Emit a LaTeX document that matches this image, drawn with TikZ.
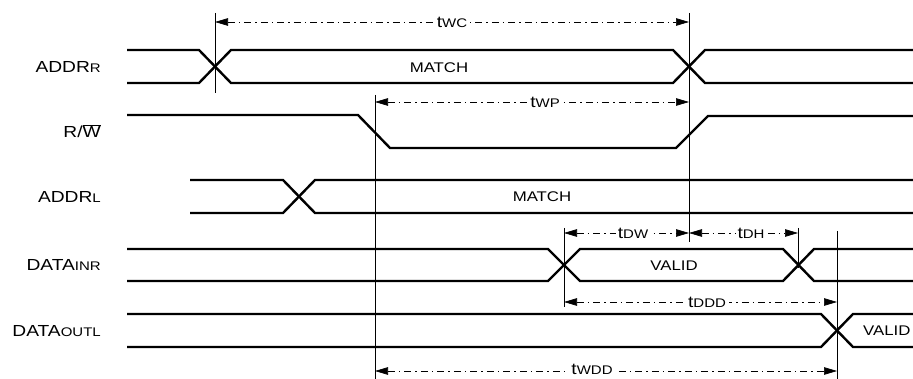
\documentclass[tikz,border=0pt]{standalone}
\usepackage{fontspec}
\setmainfont{Liberation Sans}[FakeStretch=1.2]
\usetikzlibrary{arrows.meta}
\newcommand\smc[1]{{\fontsize{12.5}{12.5}\selectfont #1}}
\begin{document}
\begin{tikzpicture}[x=1pt,y=-1pt,
  sig/.style={line width=2.4pt, line join=miter},
  guide/.style={line width=0.7pt},
  dim/.style={line width=0.7pt, dash pattern=on 7pt off 4pt on 1.5pt off 4pt,
    {Triangle[length=13pt,width=7.5pt]}-{Triangle[length=13pt,width=7.5pt]}},
  lbl/.style={anchor=east, inner sep=0pt, font=\fontsize{16}{16}\selectfont},
  tlbl/.style={fill=white, inner xsep=3pt, inner ysep=0.5pt, font=\fontsize{16}{16}\selectfont},
  big/.style={inner sep=0pt, font=\fontsize{14}{14}\selectfont}]
\useasboundingbox (0,0) rectangle (913,379);
% signal labels
\node[lbl] (lAR) at (101,67) {ADDR\smc{R}};
\node[lbl] (lRW) at (101,131) {R/$\overline{\mbox{W}}$};
\node[lbl] (lAL) at (101,197) {ADDR\smc{L}};
\node[lbl] (lDI) at (101,265) {DATA\smc{INR}};
\node[lbl] (lDO) at (101,331) {DATA\smc{OUTL}};
% ADDR R
\draw[sig] (127,50) -- (199,50) -- (231,83) -- (673,83) -- (705,50) -- (913,50);
\draw[sig] (127,83) -- (199,83) -- (231,50) -- (673,50) -- (705,83) -- (913,83);
\node[big] (m1) at (439,68) {MATCH};
% R/W
\draw[sig] (127,115) -- (358,115) -- (390,148) -- (676,148) -- (708,116) -- (913,116);
% ADDR L
\draw[sig] (190,180) -- (283,180) -- (315,213) -- (913,213);
\draw[sig] (190,213) -- (283,213) -- (315,180) -- (913,180);
\node[big] (m2) at (542,197) {MATCH};
% DATA IN R
\draw[sig] (127,249) -- (548,249) -- (580,281) -- (783,281) -- (814,249) -- (913,249);
\draw[sig] (127,281) -- (548,281) -- (580,249) -- (783,249) -- (814,281) -- (913,281);
\node[big] (v1) at (674,266) {VALID};
% DATA OUT L
\draw[sig] (127,314) -- (821,314) -- (853,347) -- (913,347);
\draw[sig] (127,347) -- (821,347) -- (853,314) -- (913,314);
\node[big, anchor=west] (v2) at (863,331) {VALID};
% guide lines
\coordinate (g1a) at (215,13);  \coordinate (g1b) at (215,93);
\coordinate (g2a) at (375,95);  \coordinate (g2b) at (375,379);
\coordinate (g3a) at (689,13);  \coordinate (g3b) at (689,242);
\coordinate (g4a) at (564,228); \coordinate (g4b) at (564,307);
\coordinate (g5a) at (798,228); \coordinate (g5b) at (798,268);
\coordinate (g6a) at (837,231); \coordinate (g6b) at (837,379);
\foreach \g in {1,...,6} \draw[guide] (g\g a) -- (g\g b);
% dimension arrows
\coordinate (wc1) at (215,22);  \coordinate (wc2) at (689,22);
\coordinate (wp1) at (375,102); \coordinate (wp2) at (689,102);
\coordinate (dw1) at (564,233); \coordinate (dw2) at (689,233);
\coordinate (dh1) at (689,233); \coordinate (dh2) at (798,233);
\coordinate (dd1) at (564,302); \coordinate (dd2) at (837,302);
\coordinate (wd1) at (375,371); \coordinate (wd2) at (837,371);
\draw[dim] (wc1) -- (wc2);
\draw[dim] (wp1) -- (wp2);
\draw[dim] (dw1) -- (dw2);
\draw[dim] (dh1) -- (dh2);
\draw[dim] (dd1) -- (dd2);
\draw[dim] (wd1) -- (wd2);
\node[tlbl] (twc) at (452,22) {t\smc{WC}};
\node[tlbl] (twp) at (545,102) {t\smc{WP}};
\node[tlbl, inner xsep=2pt] (tdw) at (633,233) {t\smc{DW}};
\node[tlbl, inner xsep=2pt] (tdh) at (751,233) {t\smc{DH}};
\node[tlbl] (tddd) at (707,302) {t\smc{DDD}};
\node[tlbl] (twdd) at (592,369) {t\smc{WDD}};
\end{tikzpicture}
\end{document}
